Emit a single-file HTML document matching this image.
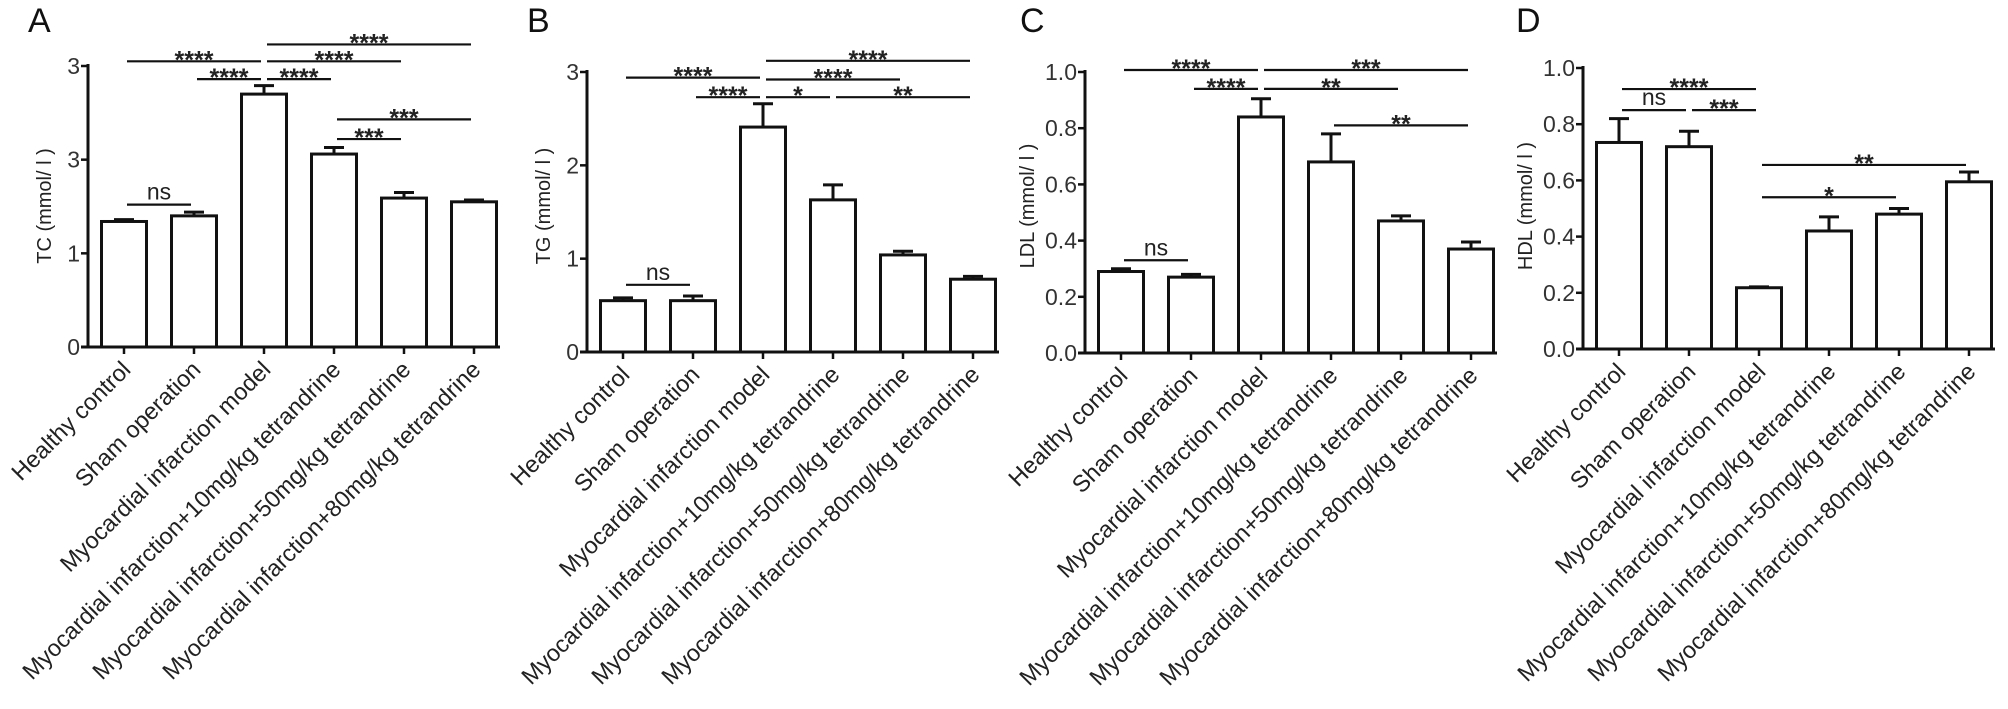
<!DOCTYPE html>
<html><head><meta charset="utf-8"><style>
html,body{margin:0;padding:0;background:#fff;}
svg{display:block;font-family:"Liberation Sans",Arial,sans-serif;}
</style></head><body>
<svg id="fig" width="2008" height="709" viewBox="0 0 2008 709"></svg>
<script>
const categories = ["Healthy control","Sham operation","Myocardial infarction model","Myocardial infarction+10mg/kg tetrandrine","Myocardial infarction+50mg/kg tetrandrine","Myocardial infarction+80mg/kg tetrandrine"];
const tcValues = [1.34, 1.40, 2.70, 2.06, 1.59, 1.55];
const tcErrors = [0.02, 0.04, 0.09, 0.07, 0.06, 0.02];
const tcTickValues = [0, 1, 2, 3];
const tcTickLabels = ["0", "1", "3", "3"];
const tgValues = [0.55, 0.55, 2.41, 1.63, 1.04, 0.78];
const tgErrors = [0.03, 0.05, 0.25, 0.16, 0.04, 0.03];
const tgTickValues = [0, 1, 2, 3];
const tgTickLabels = ["0", "1", "2", "3"];
const ldlValues = [0.29, 0.27, 0.84, 0.68, 0.47, 0.37];
const ldlErrors = [0.01, 0.01, 0.065, 0.10, 0.018, 0.025];
const ldlTickValues = [0, 0.2, 0.4, 0.6, 0.8, 1.0];
const ldlTickLabels = ["0.0", "0.2", "0.4", "0.6", "0.8", "1.0"];
const hdlValues = [0.735, 0.72, 0.218, 0.42, 0.48, 0.595];
const hdlErrors = [0.085, 0.055, 0.003, 0.05, 0.02, 0.035];
const hdlTickValues = [0, 0.2, 0.4, 0.6, 0.8, 1.0];
const hdlTickLabels = ["0.0", "0.2", "0.4", "0.6", "0.8", "1.0"];
// significance brackets: [fromIndex, toIndex, level value, label]
const tcSig = [[0,2,3.05,"****"],[2,5,3.23,"****"],[2,4,3.05,"****"],[1,2,2.86,"****"],[2,3,2.86,"****"],[3,5,2.43,"***"],[3,4,2.22,"***"],[0,1,1.52,"ns"]];
const tgSig = [[0,2,2.94,"****"],[1,2,2.73,"****"],[2,5,3.12,"****"],[2,4,2.92,"****"],[2,3,2.73,"*"],[3,5,2.73,"**"],[0,1,0.72,"ns"]];
const ldlSig = [[0,2,1.007,"****"],[2,5,1.007,"***"],[1,2,0.94,"****"],[2,4,0.94,"**"],[3,5,0.81,"**"],[0,1,0.33,"ns"]];
const hdlSig = [[0,2,0.925,"****"],[0,1,0.85,"ns"],[1,2,0.85,"***"],[2,5,0.655,"**"],[2,4,0.54,"*"]];

const NS="http://www.w3.org/2000/svg";
const svg=document.getElementById('fig');
function mk(tag,attrs,parent){const e=document.createElementNS(NS,tag);for(const k in attrs)e.setAttribute(k,attrs[k]);(parent||svg).appendChild(e);return e;}

function panel(cfg){
  const g=mk('g',{});
  
  
  const ax=cfg.axisX, y0=cfg.y0, yTop=cfg.yTop, vmax=cfg.vmax;
  const yScale=v=>y0-(v/vmax)*(y0-yTop);
  const xScale=i=>ax+36+i*70;
  const lt=mk('text',{x:cfg.letterX,y:32,'font-size':34,fill:'#111'},g);lt.textContent=cfg.letter;
  
  
  const ya=mk('line',{x1:ax,y1:yTop-2,x2:ax,y2:y0+1.5,stroke:'#111','stroke-width':3},g);
  
  
  const xa=mk('line',{x1:ax-7,y1:y0,x2:ax+36+5*70+26,y2:y0,stroke:'#111','stroke-width':3},g);
  
  
  cfg.ticks.forEach((v,i)=>{
    const y=yScale(v);
    mk('line',{x1:ax-7,y1:y,x2:ax,y2:y,stroke:'#111','stroke-width':2.5},g);
    const t=mk('text',{x:ax-8,y:y+8,'font-size':23,'text-anchor':'end',fill:'#333'},g);t.textContent=cfg.tickLabels[i];
    
    
  });
  const tt=mk('text',{x:0,y:0,'font-size':20,'text-anchor':'middle',fill:'#222',transform:`translate(${cfg.titleX},${206}) rotate(-90)`},g);
  tt.textContent=cfg.title;
  
  
  cfg.values.forEach((v,i)=>{
    const cx=xScale(i), top=yScale(v), et=yScale(v+cfg.errors[i]);
    mk('line',{x1:cx,y1:top,x2:cx,y2:et,stroke:'#111','stroke-width':3},g);
    mk('line',{x1:cx-10,y1:et,x2:cx+10,y2:et,stroke:'#111','stroke-width':3},g);
    const r=mk('rect',{x:cx-22.5,y:top,width:45,height:y0-top,fill:'#fff',stroke:'#111','stroke-width':3},g);
    
    
    mk('line',{x1:cx,y1:y0,x2:cx,y2:y0+7,stroke:'#111','stroke-width':2.5},g);
    const lab=mk('text',{x:0,y:0,'font-size':23.5,'text-anchor':'end',fill:'#222',transform:`translate(${cx+8},${y0+24}) rotate(-45)`},g);
    lab.textContent=categories[i];
    
    
  });
  cfg.sig.forEach(s=>{
    const x1=xScale(s[0])+3, x2=xScale(s[1])-3, y=yScale(s[2]);
    mk('line',{x1:x1,y1:y,x2:x2,y2:y,stroke:'#111','stroke-width':2.2},g);
    const isNs=s[3]==='ns';
    const t=mk('text',{x:(x1+x2)/2,y:isNs?y-5:y+7,'font-size':isNs?23:25,'font-weight':isNs?'normal':'bold','text-anchor':'middle',fill:'#222'},g);
    t.textContent=s[3];
    
    
  });
}
panel({letter:'A',letterX:28,axisX:88,y0:347,yTop:66,vmax:3,ticks:tcTickValues,tickLabels:tcTickLabels,title:'TC (mmol/ l )',titleX:51,values:tcValues,errors:tcErrors,sig:tcSig});
panel({letter:'B',letterX:527,axisX:587,y0:352,yTop:72,vmax:3,ticks:tgTickValues,tickLabels:tgTickLabels,title:'TG (mmol/ l )',titleX:550,values:tgValues,errors:tgErrors,sig:tgSig});
panel({letter:'C',letterX:1020,axisX:1085,y0:353,yTop:72,vmax:1,ticks:ldlTickValues,tickLabels:ldlTickLabels,title:'LDL (mmol/ l )',titleX:1034,values:ldlValues,errors:ldlErrors,sig:ldlSig});
panel({letter:'D',letterX:1516,axisX:1583,y0:349,yTop:68,vmax:1,ticks:hdlTickValues,tickLabels:hdlTickLabels,title:'HDL (mmol/ l )',titleX:1532,values:hdlValues,errors:hdlErrors,sig:hdlSig});
</script>
</body></html>
